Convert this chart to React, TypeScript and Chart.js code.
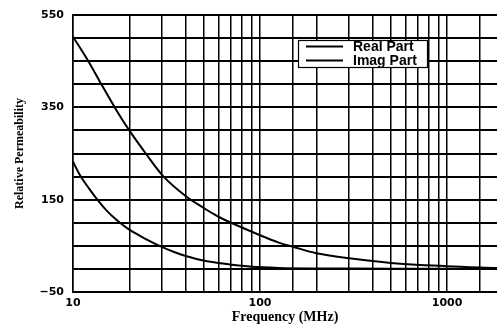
import React, { useEffect, useRef } from 'react';
import { Chart, registerables } from 'chart.js';

Chart.register(...registerables);

const realFreq = [10, 12, 14, 17, 20, 24.5, 30.5, 40, 50, 60, 70, 100, 126, 150, 200, 300, 500, 1000, 1850];
const realValues = [503, 452, 404, 345, 300, 250, 200, 158, 132, 113, 100, 73, 57, 48, 34, 23, 13, 6, 2];
const imagFreq = [10, 11, 12, 13.5, 15, 17, 20, 25, 29, 35, 40, 49, 65, 88, 126, 200, 500, 1850];
const imagValues = [232, 200, 178, 150, 128, 107, 85, 63, 50, 36, 28, 19, 11, 5, 2, 1, 0.5, 0];
const seriesLabels = ['Real Part', 'Imag Part'];
const xTickLabels = [10, 100, 1000];
const yTickLabels = [-50, 150, 350, 550];
const xRange = [10, 1850];
const yRange = [-50, 550];
const yStep = 50;

const legendPlugin = {
  id: 'boxLegend',
  afterDraw(chart: any) {
    const { ctx, chartArea } = chart;
    const x = chartArea.left + 225;
    const y = chartArea.top + 25;
    const w = 129;
    const h = 27;
    ctx.save();
    ctx.fillStyle = '#fff';
    ctx.fillRect(x, y, w, h);
    ctx.strokeStyle = '#000';
    ctx.lineWidth = 1.2;
    ctx.strokeRect(x + 0.5, y + 0.5, w, h);
    ctx.font = 'bold 14px "Liberation Sans", Arial, sans-serif';
    ctx.textBaseline = 'middle';
    ctx.fillStyle = '#000';
    chart.data.datasets.forEach((ds: any, i: number) => {
      const ly = y + 6.5 + i * 14;
      ctx.beginPath();
      ctx.lineWidth = 2;
      ctx.moveTo(x + 8, ly);
      ctx.lineTo(x + 45, ly);
      ctx.stroke();
      ctx.fillText(ds.label, x + 55, ly + 0.5);
    });
    ctx.restore();
  },
};

const whiteBg = {
  id: 'whiteBg',
  beforeDraw(chart: any) {
    const { ctx, width, height } = chart;
    ctx.save();
    ctx.fillStyle = '#fff';
    ctx.fillRect(0, 0, width, height);
    ctx.restore();
  },
};

export default function App() {
  const ref = useRef<HTMLCanvasElement>(null);
  useEffect(() => {
    if (!ref.current) return;
    const chart = new Chart(ref.current, {
      type: 'line',
      data: {
        datasets: [
          {
            label: seriesLabels[0],
            data: realFreq.map((f, i) => ({ x: f, y: realValues[i] })),
            borderColor: '#000',
            borderWidth: 2,
            pointRadius: 0,
            tension: 0.35,
            fill: false,
          },
          {
            label: seriesLabels[1],
            data: imagFreq.map((f, i) => ({ x: f, y: imagValues[i] })),
            borderColor: '#000',
            borderWidth: 2,
            pointRadius: 0,
            tension: 0.35,
            fill: false,
          },
        ],
      },
      options: {
        responsive: false,
        animation: false,
        layout: { autoPadding: false, padding: { top: 15, right: 0, left: 0, bottom: 0 } },
        plugins: { legend: { display: false }, tooltip: { enabled: false } },
        scales: {
          x: {
            type: 'logarithmic',
            min: xRange[0],
            max: xRange[1],
            border: { display: true, color: '#000', width: 1.5 },
            grid: {
              color: (c: any) => (c.tick && c.tick.value === xRange[1] ? 'rgba(0,0,0,0)' : '#000'),
              lineWidth: 1.5,
              drawTicks: false,
            },
            ticks: {
              autoSkip: false,
              maxRotation: 0,
              padding: 5,
              color: '#000',
              font: { family: '"DejaVu Sans", sans-serif', size: 11, weight: 'bold' },
              callback: (v: any) => (xTickLabels.includes(Number(v)) ? String(v) : ''),
            },
            title: {
              display: true,
              text: 'Frequency (MHz)',
              color: '#000',
              font: { family: '"Liberation Serif", serif', size: 14, weight: 'bold' },
              padding: { top: 2, bottom: 1 },
            },
            afterFit: (s: any) => {
              s.height = 35;
              s.paddingRight = 0;
              s.paddingLeft = 0;
            },
          },
          y: {
            type: 'linear',
            min: yRange[0],
            max: yRange[1],
            border: { display: true, color: '#000', width: 1.5 },
            grid: { color: '#000', lineWidth: 2, drawTicks: false },
            ticks: {
              stepSize: yStep,
              autoSkip: false,
              padding: 9,
              color: '#000',
              font: { family: '"DejaVu Sans", sans-serif', size: 11, weight: 'bold' },
              callback: (v: any) =>
                yTickLabels.includes(Number(v)) ? String(v).replace('-', '\u2212') : '',
            },
            title: {
              display: true,
              text: 'Relative Permeability',
              color: '#000',
              font: { family: '"Liberation Serif", serif', size: 12, weight: 'bold' },
              padding: { top: 13, bottom: 0 },
            },
            afterFit: (s: any) => {
              s.width = 73;
              s.paddingTop = 0;
              s.paddingBottom = 0;
            },
          },
        },
      },
      plugins: [whiteBg, legendPlugin],
    } as any);
    return () => chart.destroy();
  }, []);
  return (
    <div style={{ position: 'fixed', left: 0, top: 0, width: 497, height: 327, background: '#fff' }}>
      <canvas ref={ref} width={497} height={327} style={{ display: 'block' }} />
    </div>
  );
}
